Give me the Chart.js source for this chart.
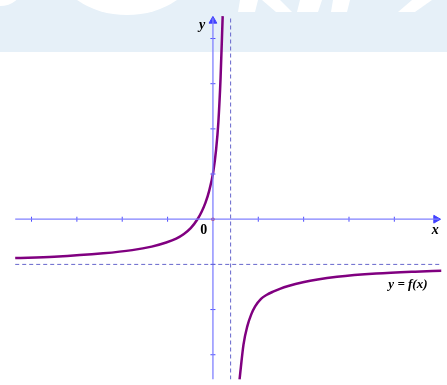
<!DOCTYPE html>
<html>
<head>
<meta charset="utf-8">
<script src="https://cdn.jsdelivr.net/npm/chart.js@4"></script>
<style>
  body { margin: 0; background: #fff; }
  #graph { display: block; }
</style>
</head>
<body>
<canvas id="graph" width="447" height="385"></canvas>
<script>
// values, in tick units (one tick = 1)
let leftX = [-4.36, -3.50, -2.42, -1.78, -1.35, -1.03, -0.81, -0.64, -0.49, -0.337, -0.252, -0.166, -0.08, 0.006, 0.071, 0.12, 0.168, 0.215];
let leftY = [-0.86, -0.83, -0.755, -0.684, -0.606, -0.516, -0.43, -0.327, -0.198, 0.004, 0.159, 0.361, 0.639, 1.041, 1.553, 2.151, 3.118, 4.495];
let rightX = [0.587, 0.673, 0.759, 0.845, 0.931, 1.060, 1.189, 1.340, 1.490, 1.662, 1.985, 2.308, 2.738, 3.598, 4.458, 5.04];
let rightY = [-3.55, -2.78, -2.366, -2.106, -1.929, -1.761, -1.671, -1.598, -1.535, -1.479, -1.396, -1.333, -1.275, -1.204, -1.161, -1.14];
let xTicks = [-4, -3, -2, -1, 1, 2, 3, 4];
let yTicks = [-3, -2, -1, 1, 2, 3, 4];
let asymptoteX = 0.39;
let asymptoteY = -1;

let xMin = -4.574, xMax = 5.04;
let yMin = -3.548, yMax = 4.731;

function toPoints(xs, ys) {
    return xs.map((x, i) => ({ x: x, y: ys[i] }));
}

const axisColor = '#8080ff';
const dashColor = '#6666cc';
const curveColor = '#800080';

// light watermark band at the top
const watermark = {
    id: 'watermark',
    beforeDraw(chart) {
        const ctx = chart.ctx;
        ctx.save();
        ctx.fillStyle = '#e6f0f8';
        ctx.fillRect(0, 0, 447, 52);
        ctx.fillStyle = '#ffffff';
        ctx.beginPath();
        ctx.ellipse(127, -35, 70, 50, 0, 0, Math.PI * 2);
        ctx.fill();
        ctx.beginPath();
        ctx.ellipse(0, -12, 22, 18, 0, 0, Math.PI * 2);
        ctx.fill();
        const shapes = [
            [[240, 0], [258, 0], [255, 12], [238, 12]],
            [[262, 0], [280, 0], [292, 12], [276, 12]],
            [[300, 0], [322, 0], [318, 12], [297, 12]],
            [[333, 0], [350, 0], [347, 12], [331, 12]],
            [[412, 0], [432, 0], [415, 12], [398, 12]]
        ];
        shapes.forEach(s => {
            ctx.beginPath();
            ctx.moveTo(s[0][0], s[0][1]);
            s.slice(1).forEach(p => ctx.lineTo(p[0], p[1]));
            ctx.closePath();
            ctx.fill();
        });
        ctx.restore();
    }
};

// axis names and function label
const labels = {
    id: 'labels',
    afterDatasetsDraw(chart) {
        const ctx = chart.ctx;
        const sx = chart.scales.x, sy = chart.scales.y;
        ctx.save();
        ctx.fillStyle = '#000';
        ctx.textAlign = 'center';
        ctx.textBaseline = 'middle';
        ctx.font = 'bold 14px "Liberation Serif"';
        ctx.fillText('0', sx.getPixelForValue(-0.2), sy.getPixelForValue(-0.24));
        ctx.font = 'italic bold 14px "Liberation Serif"';
        ctx.fillText('x', sx.getPixelForValue(4.9), sy.getPixelForValue(-0.25));
        ctx.fillText('y', sx.getPixelForValue(-0.24), sy.getPixelForValue(4.3));
        ctx.font = 'italic bold 13px "Liberation Serif"';
        ctx.fillText('y = f(x)', sx.getPixelForValue(4.3), sy.getPixelForValue(-1.45));
        ctx.restore();
    }
};

new Chart(document.getElementById('graph').getContext('2d'), {
    type: 'scatter',
    data: {
        datasets: [
            {   // horizontal asymptote
                data: [{ x: -4.36, y: asymptoteY }, { x: xMax, y: asymptoteY }],
                showLine: true, borderColor: dashColor, borderWidth: 1,
                borderDash: [4, 3], pointRadius: 0
            },
            {   // vertical asymptote
                data: [{ x: asymptoteX, y: yMin }, { x: asymptoteX, y: 4.5 }],
                showLine: true, borderColor: dashColor, borderWidth: 1,
                borderDash: [4, 3], pointRadius: 0
            },
            {   // x axis
                data: [{ x: -4.36, y: 0 }, { x: 4.98, y: 0 }],
                showLine: true, borderColor: axisColor, borderWidth: 1.3, pointRadius: 0
            },
            {   // y axis
                data: [{ x: 0, y: yMin }, { x: 0, y: 4.45 }],
                showLine: true, borderColor: axisColor, borderWidth: 1.3, pointRadius: 0
            },
            {   // x ticks
                data: xTicks.map(v => ({ x: v, y: 0 })),
                pointStyle: 'line', rotation: 90, pointRadius: 2.5,
                borderColor: '#4d4dff', borderWidth: 1
            },
            {   // y ticks
                data: yTicks.map(v => ({ x: 0, y: v })),
                pointStyle: 'line', rotation: 0, pointRadius: 2.5,
                borderColor: '#4d4dff', borderWidth: 1
            },
            {   // arrow heads
                data: [{ x: 4.92, y: 0 }],
                pointStyle: 'triangle', rotation: 90, pointRadius: 4.5,
                backgroundColor: '#4040ff', borderColor: '#4040ff', borderWidth: 1
            },
            {
                data: [{ x: 0, y: 4.39 }],
                pointStyle: 'triangle', rotation: 0, pointRadius: 4.5,
                backgroundColor: '#4040ff', borderColor: '#4040ff', borderWidth: 1
            },
            {   // left branch
                data: toPoints(leftX, leftY),
                showLine: true, borderColor: curveColor, borderWidth: 2.5,
                pointRadius: 0, cubicInterpolationMode: 'monotone'
            },
            {   // right branch
                data: toPoints(rightX, rightY),
                showLine: true, borderColor: curveColor, borderWidth: 2.5,
                pointRadius: 0, cubicInterpolationMode: 'monotone'
            },
            {   // origin dot
                data: [{ x: 0, y: 0 }],
                pointRadius: 1.8, borderWidth: 0, backgroundColor: '#cc0000'
            }
        ]
    },
    options: {
        responsive: false,
        animation: false,
        layout: { padding: 0 },
        plugins: { legend: { display: false }, tooltip: { enabled: false } },
        scales: {
            x: { type: 'linear', min: xMin, max: xMax, display: false },
            y: { type: 'linear', min: yMin, max: yMax, display: false }
        }
    },
    plugins: [watermark, labels]
});
</script>
</body>
</html>
